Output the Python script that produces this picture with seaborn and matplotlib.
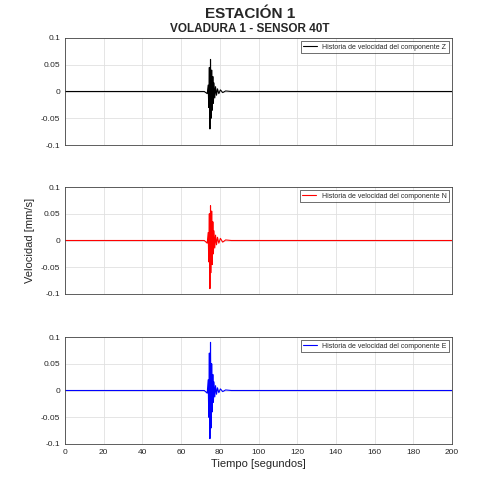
import matplotlib
matplotlib.use("Agg")
import matplotlib.pyplot as plt
import seaborn as sns

sns.set_style("white")
plt.rcParams['font.family'] = ['Liberation Sans', 'DejaVu Sans']

# burst samples (seconds, mm/s)
t = [0, 20, 40, 60, 72, 73.5, 74.0, 74.3, 74.6, 74.9, 75.2, 75.5, 75.8, 76.1, 76.4, 76.7,
     77.0, 77.4, 77.8, 78.3, 78.8, 79.5, 80.3, 81.5, 83, 86, 90, 100, 120, 140, 160, 180, 200]
z = [0.0, 0.0, 0.0, 0.0, 0.0, -0.004, 0.012, -0.03, 0.045, -0.07, 0.06, -0.05, 0.04,
     -0.035, 0.028, -0.022, 0.016, -0.012, 0.009, -0.007, 0.005, -0.004, 0.003, -0.002, 0.001,
     0.0, 0.0, 0.0, 0.0, 0.0, 0.0, 0.0, 0.0]
n = [0.0, 0.0, 0.0, 0.0, 0.0, -0.005, 0.015, -0.04, 0.05, -0.09, 0.065, -0.06, 0.055,
     -0.045, 0.035, -0.025, 0.018, -0.014, 0.01, -0.008, 0.006, -0.005, 0.004, -0.003, 0.001,
     0.0, 0.0, 0.0, 0.0, 0.0, 0.0, 0.0, 0.0]
e = [0.0, 0.0, 0.0, 0.0, 0.0, -0.005, 0.02, -0.05, 0.07, -0.09, 0.09, -0.07, 0.05,
     -0.04, 0.03, -0.022, 0.016, -0.012, 0.009, -0.007, 0.005, -0.004, 0.003, -0.002, 0.001,
     0.0, 0.0, 0.0, 0.0, 0.0, 0.0, 0.0, 0.0]

series = [(z, 'black', 'Historia de velocidad del componente Z'),
          (n, 'red', 'Historia de velocidad del componente N'),
          (e, 'blue', 'Historia de velocidad del componente E')]

fig = plt.figure(figsize=(5, 5), dpi=100)
tops = [38, 187, 337]
for i, (v, c, lab) in enumerate(series):
    ax = fig.add_axes([65/500, 1-(tops[i]+107)/500, 387/500, 107/500])
    sns.lineplot(x=t, y=v, ax=ax, color=c, lw=0.8, label=lab)
    ax.set_xlim(0, 200)
    ax.set_ylim(-0.1, 0.1)
    ax.set_xticks(range(0, 201, 20))
    ax.set_yticks([-0.1, -0.05, 0, 0.05, 0.1])
    ax.set_yticklabels(['-0.1', '-0.05', '0', '0.05', '0.1'])
    ax.grid(True, color='#e0e0e0', lw=0.6)
    ax.tick_params(labelsize=6, length=2, direction='in')
    if i < 2:
        ax.set_xticklabels([''] * 11)
    for s in ax.spines.values():
        s.set_color('#444444'); s.set_linewidth(0.6)
    leg = ax.legend(loc='upper right', fontsize=5, frameon=True, fancybox=False,
                    handlelength=2, borderpad=0.3)
    leg.get_frame().set_edgecolor('black'); leg.get_frame().set_linewidth(0.5)
    if i == 1:
        ax.set_ylabel('Velocidad [mm/s]', fontsize=8)
    if i == 2:
        ax.set_xlabel('Tiempo [segundos]', fontsize=8, labelpad=2)

fig.text(0.5, 0.972, 'ESTACIÓN 1', ha='center', va='center', fontsize=11, fontweight='bold')
fig.text(0.5, 0.941, 'VOLADURA 1 - SENSOR 40T', ha='center', va='center', fontsize=8.5, fontweight='bold')
fig.savefig('out.png', dpi=100)
